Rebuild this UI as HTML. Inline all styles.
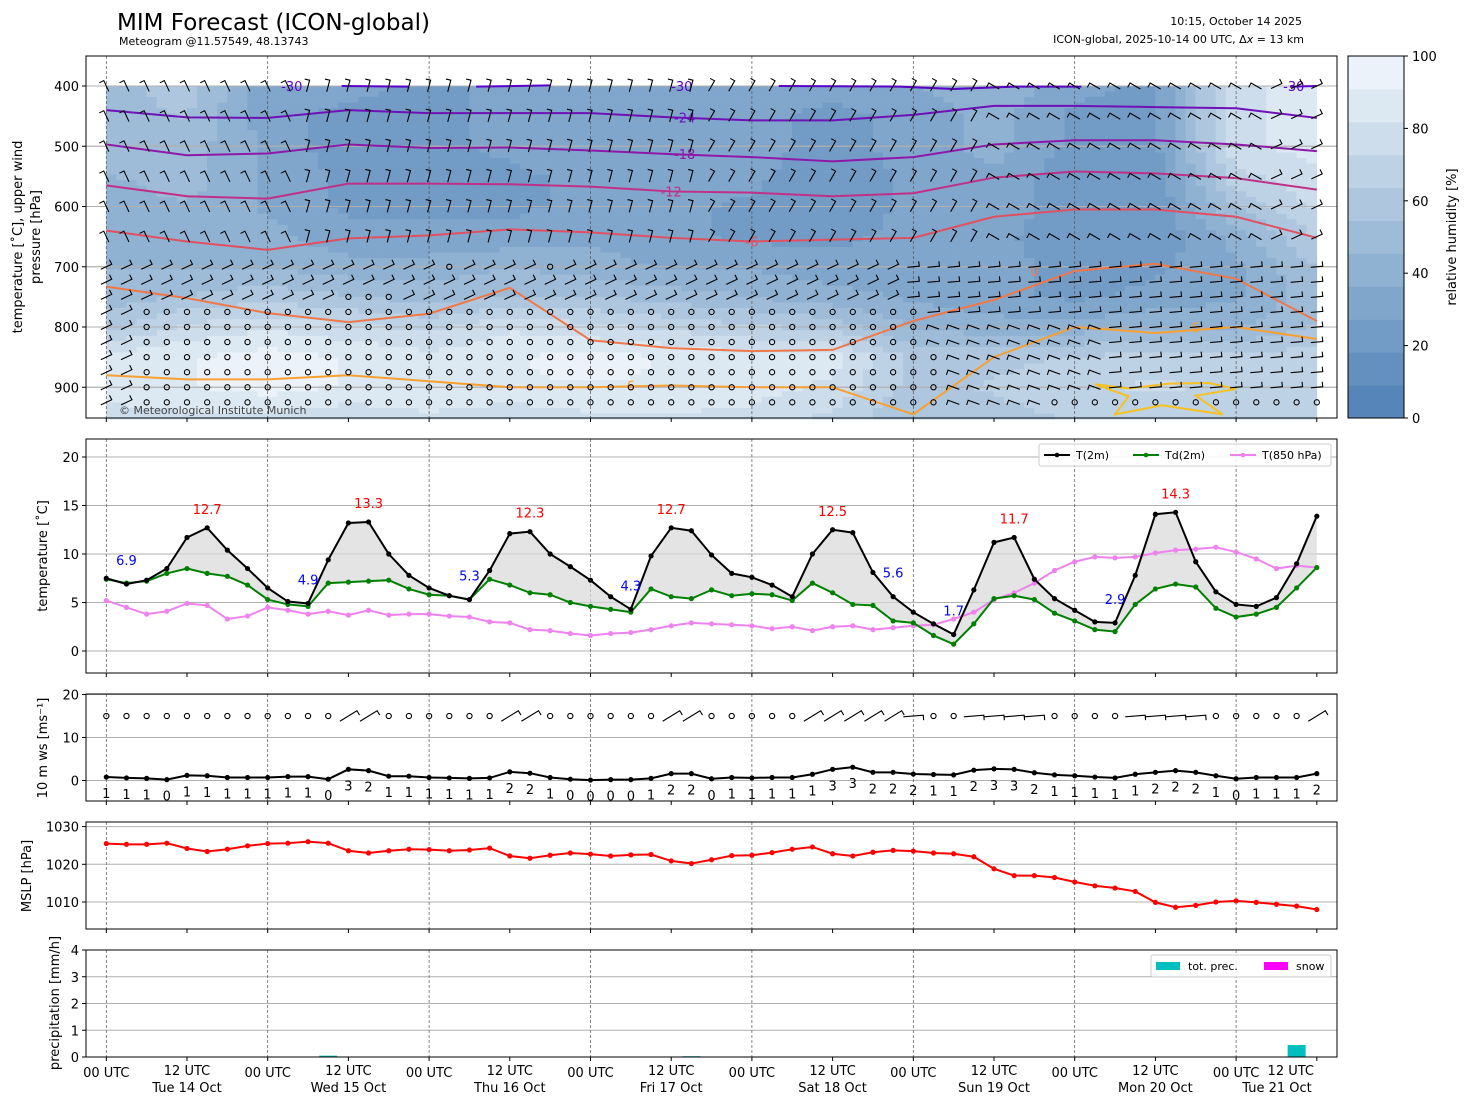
<!DOCTYPE html>
<html><head><meta charset="utf-8"><style>
html,body{margin:0;padding:0;background:#fff}
svg{display:block;font-family:"DejaVu Sans","Liberation Sans",sans-serif}
</style></head><body>
<svg id="s" width="1469" height="1105" viewBox="0 0 1469 1105" xmlns="http://www.w3.org/2000/svg">
<text x="117" y="30" font-size="23">MIM Forecast (ICON-global)</text>
<text x="119" y="45" font-size="11">Meteogram @11.57549, 48.13743</text>
<text x="1302" y="25" font-size="11" text-anchor="end">10:15, October 14 2025</text>
<text x="1304" y="43" font-size="11" text-anchor="end">ICON-global, 2025-10-14 00 UTC, Δ<tspan font-style="italic">x</tspan> = 13 km</text>
<g id="g1"></g>
<g id="g2"></g>
<g id="g3"></g>
<g id="g4"></g>
<g id="g5"></g>
<g id="gc"></g>
</svg>
<script>
const t2m=[7.5,6.9,7.3,8.5,11.7,12.7,10.4,8.5,6.5,5.1,4.9,9.4,13.2,13.3,10.0,7.8,6.5,5.7,5.3,8.3,12.1,12.3,10.0,8.7,7.3,5.6,4.3,9.8,12.7,12.4,9.9,8.0,7.6,6.8,5.6,10.0,12.5,12.2,8.1,5.6,4.0,2.8,1.7,6.3,11.2,11.7,7.4,5.4,4.2,3.0,2.9,7.8,14.1,14.3,9.2,6.1,4.8,4.6,5.5,9.0,13.9];
const td2m=[7.4,7.0,7.2,8.0,8.5,8.0,7.7,6.8,5.3,4.8,4.6,7.0,7.1,7.2,7.3,6.4,5.8,5.7,5.3,7.4,6.8,6.0,5.8,5.0,4.6,4.3,4.0,6.4,5.6,5.4,6.3,5.7,5.9,5.8,5.2,7.0,6.0,4.8,4.7,3.1,2.9,1.6,0.7,2.8,5.4,5.7,5.3,3.9,3.1,2.2,2.0,4.8,6.4,6.9,6.6,4.4,3.5,3.8,4.5,6.5,8.6];
const t850=[5.2,4.5,3.8,4.1,4.9,4.7,3.3,3.6,4.5,4.2,3.8,4.1,3.7,4.2,3.7,3.8,3.8,3.6,3.5,3.0,2.9,2.2,2.1,1.8,1.6,1.8,1.9,2.2,2.6,2.9,2.8,2.7,2.6,2.3,2.5,2.1,2.5,2.6,2.2,2.4,2.6,2.7,3.3,4.0,5.3,6.0,7.0,8.3,9.2,9.7,9.6,9.7,10.1,10.4,10.5,10.7,10.2,9.5,8.5,8.8,8.6];
const maxIdx=[5,13,21,28,36,45,53];
const minIdx=[1,10,18,26,39,42,50];
const ws10=[0.8,0.6,0.5,0.2,1.2,1.1,0.7,0.7,0.7,0.9,0.9,0.3,2.6,2.3,1.0,1.0,0.7,0.6,0.5,0.6,2.0,1.7,0.7,0.3,0.1,0.2,0.2,0.5,1.6,1.6,0.4,0.7,0.6,0.7,0.7,1.45,2.6,3.1,1.9,1.9,1.5,1.4,1.3,2.4,2.7,2.6,1.8,1.3,1.1,0.8,0.6,1.45,1.9,2.3,1.9,1.1,0.4,0.7,0.7,0.7,1.6];
const mslp=[1025.5,1025.3,1025.3,1025.6,1024.2,1023.4,1024.0,1024.9,1025.5,1025.6,1026.0,1025.6,1023.6,1023.0,1023.6,1024.0,1023.9,1023.6,1023.8,1024.3,1022.2,1021.6,1022.4,1023.0,1022.7,1022.2,1022.5,1022.6,1020.9,1020.2,1021.2,1022.3,1022.4,1023.1,1024.0,1024.6,1022.8,1022.2,1023.2,1023.7,1023.5,1023.0,1022.8,1022.0,1018.8,1017.0,1017.0,1016.5,1015.3,1014.3,1013.7,1012.8,1009.9,1008.6,1009.1,1010.0,1010.3,1009.9,1009.4,1008.9,1008.0];
const precip=[0,0,0,0,0,0,0,0,0,0,0,0.05,0,0,0,0,0,0,0,0,0,0,0,0,0,0,0,0,0,0.03,0,0,0,0,0,0,0,0,0,0,0,0,0,0,0,0,0,0,0,0,0,0,0,0,0,0,0,0,0,0.45,0];
const rhLevels=[400,450,500,550,600,650,700,750,800,850,900,950];
const rh=[
[50,60,30,30,25,30,35,35,30,30,35,45,30,25,80,85],
[50,55,30,25,25,30,35,35,30,25,30,40,25,25,80,85],
[50,50,35,20,25,30,35,35,30,25,30,40,25,25,80,85],
[45,50,35,25,20,25,30,35,30,20,30,35,20,20,70,80],
[40,45,35,25,25,25,30,30,25,20,30,35,20,20,55,75],
[40,45,40,30,30,30,35,30,25,25,30,30,20,20,40,65],
[45,45,45,40,40,45,40,35,35,30,30,30,25,25,35,55],
[50,55,60,55,50,55,55,50,45,40,35,30,25,30,35,50],
[60,75,80,75,70,80,75,70,65,60,45,40,40,45,45,55],
[85,90,95,90,85,90,95,90,85,85,60,60,65,65,65,70],
[90,90,95,90,90,90,90,90,85,80,60,65,70,75,70,70],
[75,80,80,75,80,75,80,80,80,70,55,60,65,65,65,65]];
const cLabels=["-24","-18","-12","-6","0","6"];
const cColors=["#7010b8","#8e18a8","#c03088","#e05060","#f07848","#f8a030"];
const cHours=[0,12,24,36,48,60,72,84,96,108,120,132,144,156,168,180];
const cP=[
[440,452,453,440,445,445,445,452,457,457,448,433,433,435,437,453],
[497,515,512,497,503,502,507,513,518,525,518,497,490,490,497,508],
[565,583,587,562,562,563,567,575,577,583,578,552,542,545,553,572],
[640,658,672,653,648,638,643,652,658,655,652,617,605,605,617,652],
[733,752,777,792,778,735,822,835,840,838,790,755,707,695,720,790],
[880,887,887,880,890,900,900,897,900,900,945,850,800,810,800,820]];
const hours=t2m.map((v,i)=>i*3);

const NS="http://www.w3.org/2000/svg";
const L=86,R=1337;
const X=h=>106.3+h*(161.4/24);
function el(g,tag,at,txt){const e=document.createElementNS(NS,tag);for(const k in at)e.setAttribute(k,at[k]);if(txt!==undefined)e.textContent=txt;g.appendChild(e);return e;}
const yP=p=>86+(p-400)*0.6025;
const yT=t=>651-t*9.7;
const yW=w=>780.5-w*4.3;
const yM=p=>902-(p-1010)*3.77;
const yR=r=>1057-r*26.75;
function rhColor(v){v=Math.max(0,Math.min(100,Math.floor(v/9.09)*9.09+4.5));
 const a=[78,128,182],b=[158,188,216],c=[244,248,252];let r;
 if(v<50){const f=v/50;r=a.map((x,i)=>x+(b[i]-x)*f);}else{const f=(v-50)/50;r=b.map((x,i)=>x+(c[i]-x)*f);}
 return `rgb(${r.map(Math.round).join(',')})`;}
function frame(g,top,bot,name){const r=el(g,'rect',{x:L,y:top,width:R-L,height:bot-top,fill:'none',stroke:'#000','stroke-width':1});
 }
function vdash(g,top,bot){for(let d=0;d<8;d++){el(g,'line',{x1:X(d*24),x2:X(d*24),y1:top,y2:bot,stroke:'#555','stroke-width':0.7,'stroke-dasharray':'3,2'});}}
function xticks(g,bot){for(let k=0;k<=15;k++){el(g,'line',{x1:X(k*12),x2:X(k*12),y1:bot,y2:bot+4,stroke:'#000'});}}
function ylabel(g,x,y,txt,name){const t=el(g,'text',{x:x,y:y,'font-size':13,'text-anchor':'middle',transform:`rotate(-90 ${x} ${y})`},txt);
 return t;}
function hgrid(g,vals,f,lab){vals.forEach(v=>{const y=f(v);el(g,'line',{x1:L,x2:R,y1:y,y2:y,stroke:'#b0b0b0','stroke-width':1});
 el(g,'line',{x1:L-4,x2:L,y1:y,y2:y,stroke:'#000'});
 const t=el(g,'text',{x:L-7,y:y+5,'font-size':13,'text-anchor':'end'},lab?lab(v):v);});}

// ---------- Panel 1 ----------
const g1=document.getElementById('g1');
const x0=X(0),x1=X(180);
const nx=120,ny=60;
for(let j=0;j<ny;j++){const p0=400+j*(553/ny),p1=400+(j+1)*(553/ny);const pm=(p0+p1)/2;
 let fr=(pm-400)/50;let r0=Math.min(10,Math.floor(fr));let fy=fr-r0;if(r0>=11){r0=10;fy=1;}
 for(let i=0;i<nx;i++){const h=(i+0.5)*180/nx;let fc=h/12;let c0=Math.min(14,Math.floor(fc));let fx=fc-c0;
  const v=(1-fy)*((1-fx)*rh[r0][c0]+fx*rh[r0][c0+1])+fy*((1-fx)*rh[r0+1][c0]+fx*rh[r0+1][c0+1]);
  el(g1,'rect',{x:X(i*180/nx)-0.1,y:yP(p0)-0.1,width:(x1-x0)/nx+0.4,height:yP(p1)-yP(p0)+0.4,fill:rhColor(v)});}}
[400,500,600,700,800,900].forEach(p=>{el(g1,'line',{x1:L,x2:R,y1:yP(p),y2:yP(p),stroke:'#b0b0b0','stroke-width':1});});
hgrid(g1,[400,500,600,700,800,900],yP);
vdash(g1,56,418);
[[[35,400],[45,401]],[[55,401],[66,399]],[[100,400],[118,401],[126,405],[135,401],[145,401]],[[176,401],[180,400]]].forEach(seg=>{
 el(g1,'polyline',{points:seg.map(q=>X(q[0])+','+yP(q[1])).join(' '),fill:'none',stroke:'#5a00c8','stroke-width':2});});
el(g1,'text',{x:X(26),y:yP(400)+5,'font-size':13,fill:'#5a00c8'},'-30');
el(g1,'text',{x:X(84),y:yP(400)+5,'font-size':13,fill:'#5a00c8'},'-30');
el(g1,'text',{x:X(175),y:yP(400)+5,'font-size':13,fill:'#5a00c8'},'-30');
cP.forEach((row,k)=>{const pl=el(g1,'polyline',{points:row.map((p,i)=>X(cHours[i])+','+yP(p)).join(' '),fill:'none',stroke:cColors[k],'stroke-width':2});
 });
[[86,'-24',0],[86,'-18',1],[84,'-12',2],[96,'-6',3],[138,'0',4],[78,'6',5],[162,'6',5]].forEach(a=>{const i=Math.round(a[0]/12);
 el(g1,'text',{x:X(a[0]),y:yP(cP[a[2]][Math.min(15,i)])+5,'font-size':13,fill:cColors[a[2]],'text-anchor':'middle'},a[1]);});
el(g1,'polyline',{points:[[147,895],[152,902],[158,894],[164,893],[168,903],[162,914],[166,945],[157,930],[150,945],[152,915],[147,895]].map(q=>X(q[0])+','+yP(q[1])).join(' '),fill:'none',stroke:'#f8c020','stroke-width':2});
const bLev=[400,450,500,550,600,650,700,725,750,775,800,825,850,875,900,925];
for(let i=0;i<61;i++){const x=X(i*3);bLev.forEach((p,k)=>{const y=yP(p);
 let calm=(p>=775&&i>=2&&i<=40)||(p>=850&&i>=2&&i<=41)||(p===925&&i>=47)||(p===700&&(i===17||i===22))||(p===750&&(i>=12&&i<=14));
 if(calm){el(g1,'circle',{cx:x,cy:y,r:2.6,fill:'none',stroke:'#000','stroke-width':1.1});return;}
 let ang;if(p<=650){ang=i<10?-115:(i<48?(i<30?-75:-60):-20);if(i>=44&&i<58)ang=-150;if(i>=58)ang=-25;}
 else{ang=i<40?-25:-5;if(i>=40&&i<50&&p>=800)ang=-160;}
 const a=ang*Math.PI/180,l=12;const xe=x+l*Math.cos(a)/2,ye=y+l*Math.sin(a)/2;
 el(g1,'path',{d:`M${x-l*Math.cos(a)/2} ${y-l*Math.sin(a)/2}L${xe} ${ye}l${5*Math.cos(a-1.6)} ${5*Math.sin(a-1.6)}`,fill:'none',stroke:'#000','stroke-width':1.1});});}
el(g1,'text',{x:119,y:414,'font-size':11,fill:'#444'},'© Meteorological Institute Munich');
frame(g1,56,418,'upper-air-frame');xticks(g1,418);
ylabel(g1,22,237,'temperature [˚C], upper wind','y-axis-title-upper');
ylabel(g1,40,237,'pressure [hPa]','y-axis-title-pressure');

const gc=document.getElementById('gc');
for(let b=0;b<11;b++){const y0=418-(b+1)*362/11;el(gc,'rect',{x:1348,y:y0,width:56,height:362/11+0.5,fill:rhColor(b*9.09+4)});}
el(gc,'rect',{x:1348,y:56,width:56,height:362,fill:'none',stroke:'#000'});
[0,20,40,60,80,100].forEach(v=>{const y=418-v*3.62;el(gc,'line',{x1:1404,x2:1408,y1:y,y2:y,stroke:'#000'});el(gc,'text',{x:1412,y:y+5,'font-size':13},v);});
ylabel(gc,1456,237,'relative humidity [%]','colorbar-title');

// ---------- Panel 2 ----------
const g2=document.getElementById('g2');
hgrid(g2,[0,5,10,15,20],yT);vdash(g2,439,673);
const fillPts=t2m.map((v,i)=>X(hours[i])+','+yT(v)).concat(td2m.map((v,i)=>X(hours[i])+','+yT(v)).reverse());
const fp=el(g2,'polygon',{points:fillPts.join(' '),fill:'#d8d8d8','fill-opacity':0.7});

function series(g,arr,fy,col,name,r){const pl=el(g,'polyline',{points:arr.map((v,i)=>X(hours[i])+','+fy(v)).join(' '),fill:'none',stroke:col,'stroke-width':2});
 
 arr.forEach((v,i)=>{const c=el(g,'circle',{cx:X(hours[i]),cy:fy(v),r:r||2.6,fill:col});});}
series(g2,t850,yT,'#ee82ee','t850-line');
series(g2,td2m,yT,'#008000','td2m-line');
series(g2,t2m,yT,'#000','t2m-line');
maxIdx.forEach(i=>{const t=el(g2,'text',{x:X(hours[i]),y:yT(t2m[i])-14,'font-size':13,fill:'#f00','text-anchor':'middle'},t2m[i].toFixed(1));});
minIdx.forEach(i=>{const t=el(g2,'text',{x:X(hours[i]),y:yT(t2m[i])-19,'font-size':13,fill:'#00f','text-anchor':'middle'},t2m[i].toFixed(1));});
const lg=el(g2,'g',{});
el(lg,'rect',{x:1039,y:444,width:292,height:22,rx:2,fill:'#fff','fill-opacity':0.85,stroke:'#ccc'});
[['#000',1044,'T(2m)'],['#008000',1133,'Td(2m)'],['#ee82ee',1230,'T(850 hPa)']].forEach(a=>{el(lg,'line',{x1:a[1],x2:a[1]+26,y1:455,y2:455,stroke:a[0],'stroke-width':2});el(lg,'circle',{cx:a[1]+13,cy:455,r:2.3,fill:a[0]});el(lg,'text',{x:a[1]+32,y:459,'font-size':11},a[2]);});
frame(g2,439,673,'temperature-frame');xticks(g2,673);
ylabel(g2,47,556,'temperature [˚C]','y-axis-title-temperature');

// ---------- Panel 3 ----------
const g3=document.getElementById('g3');
hgrid(g3,[0,10,20],yW);vdash(g3,694,801);
series(g3,ws10,yW,'#000','ws10-line');
ws10.forEach((w,i)=>{const x=X(hours[i]);
 if(w>=1.45){const a=(i>=40&&i<=56)?-0.08:-0.55;const l=20;
  el(g3,'path',{d:`M${x-l/2*Math.cos(a)} ${716-l/2*Math.sin(a)}L${x+l/2*Math.cos(a)} ${716+l/2*Math.sin(a)}l${5*Math.cos(a+1.57)} ${5*Math.sin(a+1.57)}`,fill:'none',stroke:'#000','stroke-width':1.1});}
 else el(g3,'circle',{cx:x,cy:716,r:2.6,fill:'none',stroke:'#000','stroke-width':1.1});
 const t=el(g3,'text',{x:x,y:yW(w)+21,'font-size':13,'text-anchor':'middle'},Math.round(w));});
frame(g3,694,801,'wind-frame');xticks(g3,801);
ylabel(g3,47,748,'10 m ws [ms⁻¹]','y-axis-title-wind');

// ---------- Panel 4 ----------
const g4=document.getElementById('g4');
hgrid(g4,[1010,1020,1030],yM);vdash(g4,822,929);
series(g4,mslp,yM,'#f00','mslp-line');
frame(g4,822,929,'mslp-frame');xticks(g4,929);
ylabel(g4,31,876,'MSLP [hPa]','y-axis-title-mslp');

// ---------- Panel 5 ----------
const g5=document.getElementById('g5');
hgrid(g5,[0,1,2,3,4],yR);vdash(g5,950,1057);
precip.forEach((v,i)=>{if(v<=0)return;const b=el(g5,'rect',{x:X(hours[i])-9,y:yR(v),width:18,height:1057-yR(v),fill:'#00bfbf'});});
const lg2=el(g5,'g',{});
el(lg2,'rect',{x:1151,y:955,width:180,height:22,rx:2,fill:'#fff','fill-opacity':0.85,stroke:'#ccc'});
el(lg2,'rect',{x:1156,y:962,width:24,height:8,fill:'#00bfbf'});el(lg2,'text',{x:1188,y:970,'font-size':11},'tot. prec.');
el(lg2,'rect',{x:1264,y:962,width:24,height:8,fill:'#ff00ff'});el(lg2,'text',{x:1296,y:970,'font-size':11},'snow');
frame(g5,950,1057,'precip-frame');xticks(g5,1057);
ylabel(g5,59,1003,'precipitation [mm/h]','y-axis-title-precip');
const days=['Tue 14 Oct','Wed 15 Oct','Thu 16 Oct','Fri 17 Oct','Sat 18 Oct','Sun 19 Oct','Mon 20 Oct','Tue 21 Oct'];
for(let k=0;k<=15;k++){let x=X(k*12);const last=(k===15);
 const t=el(g5,'text',{x:last?1314:x,y:k%2?1075:1077,'font-size':13,'text-anchor':last?'end':'middle'},k%2?'12 UTC':'00 UTC');
 if(k%2){const d=el(g5,'text',{x:last?1277:x,y:1092,'font-size':13,'text-anchor':'middle'},days[(k-1)/2]);}}
</script>
</body></html>
